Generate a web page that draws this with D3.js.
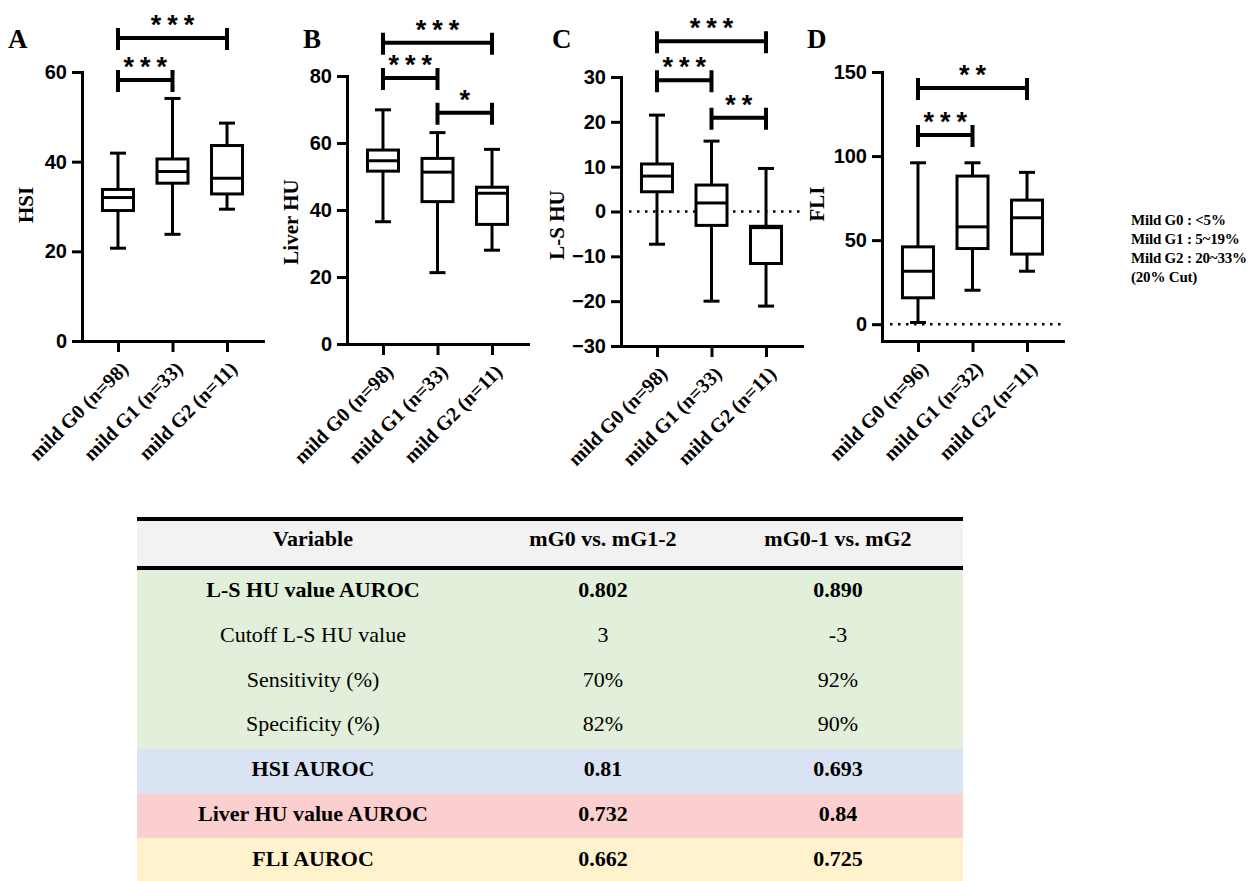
<!DOCTYPE html>
<html>
<head>
<meta charset="utf-8">
<script src="https://cdn.jsdelivr.net/npm/d3@7"></script>
<style>
  body { margin: 0; background: #fff; }
  svg { display: block; }
</style>
</head>
<body>
<div id="main-chart"></div>
<script>
const width = 1253, height = 881;

// x axis groups
const groupsCT = ["mild G0 (n=98)", "mild G1 (n=33)", "mild G2 (n=11)"];
const groupsFLI = ["mild G0 (n=96)", "mild G1 (n=32)", "mild G2 (n=11)"];

// box stats per group: [min, q1, median, q3, max]
const hsiStats = [[20.7, 29.1, 32.0, 33.8, 41.9], [23.8, 35.2, 37.8, 40.6, 54.1], [29.4, 32.8, 36.3, 43.6, 48.6]];
const liverStats = [[36.5, 51.6, 54.7, 57.9, 69.9], [21.3, 42.5, 51.3, 55.4, 63.1], [28.0, 35.7, 45.0, 46.8, 58.1]];
const lsStats = [[-7.3, 4.4, 7.9, 10.6, 21.5], [-20.0, -3.1, 1.9, 5.9, 15.7], [-21.1, -11.6, -3.6, -3.3, 9.6]];
const fliStats = [[1.0, 15.7, 31.5, 46.0, 96.0], [20.2, 45.0, 57.9, 88.1, 96.0], [31.5, 41.7, 63.3, 73.8, 90.3]];

// y ticks
const hsiTicks = [0, 20, 40, 60];
const liverTicks = [0, 20, 40, 60, 80];
const lsTicks = [-30, -20, -10, 0, 10, 20, 30];
const fliTicks = [0, 50, 100, 150];

// significance brackets: [from, to, level (data units), stars]
const hsiSig = [[0, 2, 67.6, "***"], [0, 1, 58.2, "***"]];
const liverSig = [[0, 2, 89.9, "***"], [0, 1, 79.4, "***"], [1, 2, 69.0, "*"]];
const lsSig = [[0, 2, 38.0, "***"], [0, 1, 29.3, "***"], [1, 2, 20.9, "**"]];
const fliSig = [[0, 2, 140.5, "**"], [0, 1, 112.5, "***"]];

const legendLines = ["Mild G0 : <5%", "Mild G1 : 5~19%", "Mild G2 : 20~33%", "(20% Cut)"];

// table
const tableHeader = ["Variable", "mG0 vs. mG1-2", "mG0-1 vs. mG2"];
const tableVariables = ["L-S HU value AUROC", "Cutoff L-S HU value", "Sensitivity (%)", "Specificity (%)",
                        "HSI AUROC", "Liver HU value AUROC", "FLI AUROC"];
const colG0vsG12 = ["0.802", "3", "70%", "82%", "0.81", "0.732", "0.662"];
const colG01vsG2 = ["0.890", "-3", "92%", "90%", "0.693", "0.84", "0.725"];
const rowGroup = ["ls", "ls", "ls", "ls", "hsi", "liver", "fli"];

const serif = "'Liberation Serif', 'Times New Roman', serif";
const sans = "'Liberation Sans', Arial, sans-serif";

let svg = d3.select("#main-chart")
    .append("svg")
    .attr("width", width)
    .attr("height", height);

svg.append("rect").attr("width", width).attr("height", height).attr("fill", "#fff");

const panels = [
    { letter: "A", title: "HSI", groups: groupsCT, stats: hsiStats, ticks: hsiTicks, sig: hsiSig,
      domain: [0, 60], x0: 82, yTop: 72, yBottom: 341, letterX: 8, titleX: 26, titleY: 205, zeroLine: false },
    { letter: "B", title: "Liver HU", groups: groupsCT, stats: liverStats, ticks: liverTicks, sig: liverSig,
      domain: [0, 80], x0: 347, yTop: 76, yBottom: 344, letterX: 303, titleX: 291, titleY: 222, zeroLine: false },
    { letter: "C", title: "L-S HU", groups: groupsCT, stats: lsStats, ticks: lsTicks, sig: lsSig,
      domain: [-30, 30], x0: 621, yTop: 77, yBottom: 346, letterX: 552, titleX: 557, titleY: 225, zeroLine: true },
    { letter: "D", title: "FLI", groups: groupsFLI, stats: fliStats, ticks: fliTicks, sig: fliSig,
      domain: [-10, 150], x0: 882, yTop: 72, yBottom: 341, letterX: 807, titleX: 817, titleY: 204, zeroLine: true }
];

function drawPanel(p) {
    const g = svg.append("g");
    const x = d3.scalePoint().domain(p.groups).range([p.x0, p.x0 + 181]).padding(0.66);
    const y = d3.scaleLinear().domain(p.domain).range([p.yBottom, p.yTop]);

    // zero reference
    if (p.zeroLine) {
        g.append("line")
            .attr("x1", p.x0 + 8).attr("x2", p.x0 + 181)
            .attr("y1", y(0)).attr("y2", y(0))
            .attr("stroke", "#000").attr("stroke-width", 2.5)
            .attr("stroke-dasharray", "2.5,5.5");
    }

    const yAxis = g.append("g")
        .attr("transform", `translate(${p.x0},0)`)
        .call(d3.axisLeft(y).tickValues(p.ticks).tickSize(10).tickSizeOuter(0).tickPadding(5));
    const xAxis = g.append("g")
        .attr("transform", `translate(0,${p.yBottom})`)
        .call(d3.axisBottom(x).tickSize(11).tickSizeOuter(0));

    [yAxis, xAxis].forEach(a => {
        a.select(".domain").attr("stroke-width", 3).attr("stroke-linecap", "square");
        a.selectAll(".tick line").attr("stroke-width", 3);
    });
    yAxis.selectAll(".tick text")
        .style("font-family", sans).style("font-weight", "bold").style("font-size", "20px")
        .attr("fill", "#000");
    xAxis.selectAll(".tick text")
        .attr("x", 0).attr("y", 0).attr("dy", "0.35em")
        .attr("transform", "translate(6,24) rotate(-45)")
        .style("text-anchor", "end")
        .style("font-family", serif).style("font-weight", "bold").style("font-size", "20px")
        .attr("fill", "#000");

    // boxes
    const boxW = 31, capW = 16;
    const boxes = g.selectAll(".box").data(p.stats).enter().append("g").attr("class", "box")
        .attr("transform", (d, i) => `translate(${x(p.groups[i])},0)`);
    boxes.append("line").attr("y1", d => y(d[0])).attr("y2", d => y(d[1]));
    boxes.append("line").attr("y1", d => y(d[3])).attr("y2", d => y(d[4]));
    boxes.append("line").attr("x1", -capW / 2).attr("x2", capW / 2).attr("y1", d => y(d[0])).attr("y2", d => y(d[0]));
    boxes.append("line").attr("x1", -capW / 2).attr("x2", capW / 2).attr("y1", d => y(d[4])).attr("y2", d => y(d[4]));
    boxes.append("rect")
        .attr("x", -boxW / 2).attr("width", boxW)
        .attr("y", d => y(d[3])).attr("height", d => y(d[1]) - y(d[3]))
        .attr("fill", "#fff");
    boxes.append("line").attr("x1", -boxW / 2).attr("x2", boxW / 2).attr("y1", d => y(d[2])).attr("y2", d => y(d[2]));
    boxes.selectAll("line, rect").attr("stroke", "#000").attr("stroke-width", 3);

    // significance brackets
    const sig = g.selectAll(".sig").data(p.sig).enter().append("g").attr("class", "sig");
    sig.append("path")
        .attr("d", d => {
            const x1 = x(p.groups[d[0]]), x2 = x(p.groups[d[1]]), yy = y(d[2]);
            return `M${x1},${yy - 10}V${yy + 12}M${x1},${yy}H${x2}M${x2},${yy - 10}V${yy + 12}`;
        })
        .attr("fill", "none").attr("stroke", "#000").attr("stroke-width", 4);
    sig.append("text")
        .attr("x", d => (x(p.groups[d[0]]) + x(p.groups[d[1]])) / 2 + 3)
        .attr("y", d => y(d[2]) - 4)
        .attr("text-anchor", "middle")
        .style("font-family", sans).style("font-weight", "bold").style("font-size", "27px")
        .style("letter-spacing", "6px")
        .text(d => d[3]);

    // titles
    g.append("text")
        .attr("transform", `translate(${p.titleX},${p.titleY}) rotate(-90)`)
        .attr("text-anchor", "middle").attr("dy", "0.35em")
        .style("font-family", serif).style("font-weight", "bold").style("font-size", "21px")
        .text(p.title);
    g.append("text")
        .attr("x", p.letterX).attr("y", 48)
        .style("font-family", serif).style("font-weight", "bold").style("font-size", "27px")
        .text(p.letter);
}

panels.forEach(drawPanel);

// legend note
svg.append("g").selectAll("text").data(legendLines).enter().append("text")
    .attr("x", 1131).attr("y", (d, i) => 225 + i * 19)
    .style("font-family", serif).style("font-weight", "bold").style("font-size", "15px")
    .style("letter-spacing", "-0.2px")
    .text(d => d);

// table
const tableLeft = 137, tableRight = 963, headerTop = 519, headerBottom = 568, rowTop = 570, rowH = 44.7;
const colX = [313, 603, 838];
const groupColor = { ls: "#e2efda", hsi: "#dae3f3", liver: "#fbcfcf", fli: "#fff2cc" };
const table = svg.append("g");

table.append("rect")
    .attr("x", tableLeft).attr("width", tableRight - tableLeft)
    .attr("y", headerTop).attr("height", headerBottom - headerTop)
    .attr("fill", "#f2f2f2");
table.selectAll(".hdr").data(tableHeader).enter().append("text")
    .attr("x", (d, i) => colX[i]).attr("y", 546)
    .attr("text-anchor", "middle")
    .style("font-family", serif).style("font-weight", "bold").style("font-size", "22px")
    .text(d => d);

const rows = table.selectAll(".row").data(tableVariables).enter().append("g").attr("class", "row");
rows.append("rect")
    .attr("x", tableLeft).attr("width", tableRight - tableLeft)
    .attr("y", (d, i) => rowTop + i * rowH).attr("height", rowH + 0.5)
    .attr("fill", (d, i) => groupColor[rowGroup[i]]);
rows.each(function (d, i) {
    const cells = [d, colG0vsG12[i], colG01vsG2[i]];
    d3.select(this).selectAll("text").data(cells).enter().append("text")
        .attr("x", (c, j) => colX[j])
        .attr("y", rowTop + i * rowH + rowH / 2 + 5)
        .attr("text-anchor", "middle")
        .style("font-family", serif)
        .style("font-weight", d.includes("AUROC") ? "bold" : "normal")
        .style("font-size", "22px")
        .text(c => c);
});

[headerTop, headerBottom].forEach(yy => {
    table.append("line")
        .attr("x1", tableLeft).attr("x2", tableRight)
        .attr("y1", yy).attr("y2", yy)
        .attr("stroke", "#000").attr("stroke-width", 4);
});
</script>
</body>
</html>
